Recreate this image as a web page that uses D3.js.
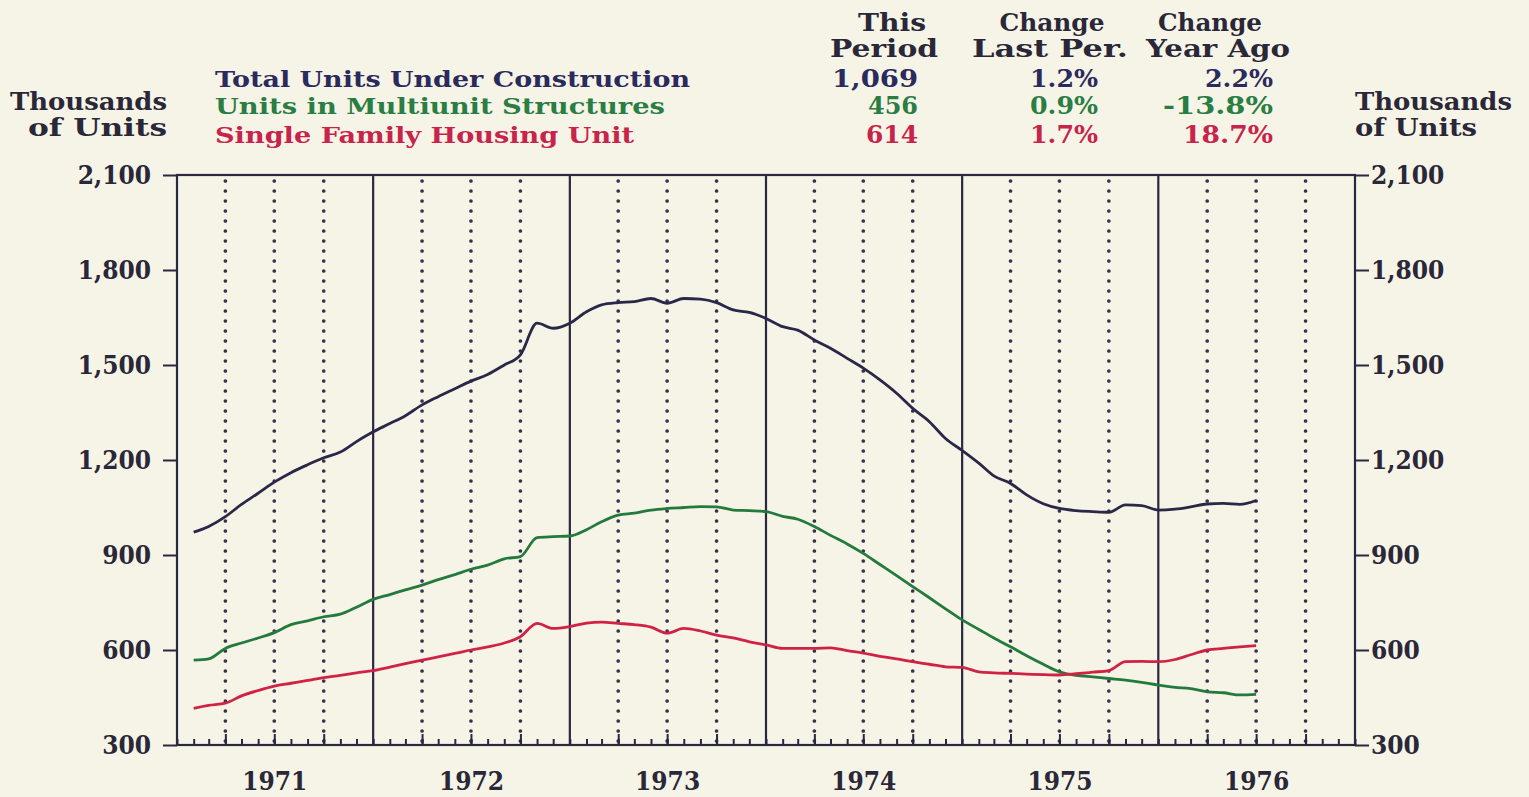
<!DOCTYPE html>
<html>
<head>
<meta charset="utf-8">
<script src="https://cdn.jsdelivr.net/npm/d3@7"></script>
<style>
  body { margin: 0; background: #f6f4e7; }
  svg { display: block; }
  .axis path, .axis line { stroke: #2a2840; }
  .ticklabel text, .axis text { font-family: "DejaVu Serif"; font-stretch: condensed; font-weight: bold; fill: #2a2838; }
</style>
</head>
<body>
<svg id="chart" width="1529" height="797"></svg>
<script>
// monthly readings, Feb 1971 .. Jul 1976 (thousands of units)
const months = d3.range(1, 67).map(i => new Date(1971, i, 1));
const totalUnits = [972, 990, 1021, 1060, 1095, 1130, 1160, 1185, 1207, 1225,
  1258, 1289, 1315, 1340, 1374, 1400, 1425, 1449, 1470, 1500,
  1532, 1632, 1616, 1632, 1668, 1690, 1697, 1700, 1710, 1695,
  1710, 1708, 1697, 1674, 1666, 1647, 1621, 1610, 1579, 1553,
  1521, 1490, 1453, 1411, 1363, 1321, 1268, 1230, 1190, 1150,
  1126, 1090, 1062, 1047, 1040, 1037, 1035, 1058, 1056, 1042,
  1045, 1052, 1061, 1063, 1060, 1072];
const multiUnits = [568, 572, 605, 622, 638, 655, 680, 692, 705, 713,
  735, 760, 775, 790, 805, 822, 838, 855, 868, 888,
  895, 955, 958, 960, 980, 1005, 1026, 1032, 1042, 1047,
  1050, 1053, 1052, 1042, 1040, 1037, 1022, 1013, 990, 962,
  935, 905, 870, 835, 800, 765, 730, 695, 665, 638,
  610, 582, 555, 531, 520, 515, 510, 505, 498, 489,
  482, 478, 468, 465, 458, 460];
const singleFamily = [416, 425, 432, 455, 472, 486, 495, 504, 513, 520,
  528, 535, 546, 557, 568, 578, 589, 600, 610, 622,
  642, 684, 668, 674, 685, 688, 684, 680, 672, 653,
  668, 660, 647, 638, 626, 616, 605, 605, 605, 607,
  598, 590, 580, 572, 563, 555, 547, 545, 531, 528,
  526, 524, 522, 521, 525, 530, 535, 563, 564, 563,
  570, 585, 600, 605, 610, 614];

const seriesNames = ["Total Units Under Construction", "Units in Multiunit Structures", "Single Family Housing Unit"];
const seriesColors = ["#2b2a5c", "#2a7d43", "#c8234a"];
const lineColors = ["#2a2748", "#237a3c", "#d02244"];
const thisPeriod = ["1,069", "456", "614"];
const changeLast = ["1.2%", "0.9%", "1.7%"];
const changeYearAgo = ["2.2%", "-13.8%", "18.7%"];
const columnHeads = [["This", "Period"], ["Change", "Last Per."], ["Change", "Year Ago"]];
const yTicks = [300, 600, 900, 1200, 1500, 1800, 2100];
const years = [1971, 1972, 1973, 1974, 1975, 1976];

const svg = d3.select("#chart");
const plotL = 177, plotR = 1355, plotT = 175, plotB = 745;

const x = d3.scaleTime()
  .domain([new Date(1971, 0, 1), new Date(1977, 0, 1)])
  .range([plotL, plotR]);
const y = d3.scaleLinear()
  .domain([300, 2100])
  .range([plotB, plotT]);

svg.append("rect").attr("width", 1529).attr("height", 797).attr("fill", "#f6f4e7");

// quarter dotted grid
const quarters = d3.timeMonth.every(3).range(x.domain()[0], x.domain()[1])
  .filter(d => d.getMonth() !== 0);
svg.append("g").selectAll("line").data(quarters).enter().append("line")
  .attr("x1", d => x(d)).attr("x2", d => x(d))
  .attr("y1", plotT + 6).attr("y2", plotB)
  .attr("stroke", "#34324c").attr("stroke-width", 3.7)
  .attr("stroke-linecap", "round").attr("stroke-dasharray", "0 10");

// year boundaries
const yearStarts = d3.timeYear.range(new Date(1972, 0, 1), new Date(1977, 0, 1));
svg.append("g").selectAll("line").data(yearStarts).enter().append("line")
  .attr("x1", d => x(d)).attr("x2", d => x(d))
  .attr("y1", plotT).attr("y2", plotB)
  .attr("stroke", "#2a2840").attr("stroke-width", 2.2);

// monthly ticks on the base line
svg.append("g").attr("class", "axis")
  .attr("transform", "translate(0," + plotB + ")")
  .call(d3.axisBottom(x).ticks(d3.timeMonth.every(1)).tickSize(-6).tickFormat(""))
  .call(g => g.select(".domain").remove())
  .selectAll("line").attr("stroke-width", 2);
svg.append("g").attr("class", "axis")
  .attr("transform", "translate(0," + plotB + ")")
  .call(d3.axisBottom(x).tickValues(quarters).tickSize(-11).tickFormat(""))
  .call(g => g.select(".domain").remove())
  .selectAll("line").attr("stroke-width", 2);

// frame and value axes
svg.append("g").attr("class", "axis ticklabel")
  .attr("transform", "translate(" + plotL + ",0)")
  .call(d3.axisLeft(y).tickValues(yTicks).tickSize(14).tickPadding(12).tickFormat(d3.format(",")))
  .call(g => g.select(".domain").remove())
  .call(g => g.selectAll("line").attr("stroke-width", 2))
  .call(g => g.selectAll("text").attr("font-size", 26));
svg.append("g").attr("class", "axis ticklabel")
  .attr("transform", "translate(" + plotR + ",0)")
  .call(d3.axisRight(y).tickValues(yTicks).tickSize(14).tickPadding(2).tickFormat(d3.format(",")))
  .call(g => g.select(".domain").remove())
  .call(g => g.selectAll("line").attr("stroke-width", 2))
  .call(g => g.selectAll("text").attr("font-size", 26));

svg.append("rect")
  .attr("x", plotL).attr("y", plotT)
  .attr("width", plotR - plotL).attr("height", plotB - plotT)
  .attr("fill", "none").attr("stroke", "#2a2840").attr("stroke-width", 2.2);

// year labels
svg.append("g").attr("class", "axis ticklabel")
  .attr("transform", "translate(0," + plotB + ")")
  .call(d3.axisBottom(x).tickValues(years.map(yr => new Date(yr, 6, 1))).tickSize(0).tickPadding(27).tickFormat(d3.timeFormat("%Y")))
  .call(g => g.select(".domain").remove())
  .call(g => g.selectAll("text").attr("font-size", 26));

// series lines
const line = d3.line()
  .x((d, i) => x(months[i]))
  .y(d => y(d))
  .curve(d3.curveMonotoneX);
[totalUnits, multiUnits, singleFamily].forEach((s, i) => {
  svg.append("path").datum(s)
    .attr("d", line)
    .attr("fill", "none")
    .attr("stroke", lineColors[i])
    .attr("stroke-width", 2.8)
    .attr("stroke-linejoin", "round");
});

// helper for fitted text
const serif = "DejaVu Serif";
function label(px, py, str, w, anchor, color, size) {
  return svg.append("text")
    .attr("x", px).attr("y", py)
    .attr("text-anchor", anchor)
    .attr("font-family", serif).attr("font-weight", "bold").attr("font-size", size || 24)
    .attr("textLength", w).attr("lengthAdjust", "spacingAndGlyphs")
    .attr("fill", color).text(str);
}

// unit titles
label(167, 110, "Thousands", 157, "end", "#2a2838", 25);
label(167, 136, "of Units", 139, "end", "#2a2838", 25);
label(1355, 110, "Thousands", 157, "start", "#2a2838", 25);
label(1355, 136, "of Units", 122, "start", "#2a2838", 25);

// legend
const rowY = [87, 114, 143];
const legendW = [475, 450, 419];
seriesNames.forEach((n, i) => label(215, rowY[i], n, legendW[i], "start", seriesColors[i], 23));

// summary table
const headCx = [[892, 884], [1052, 1050], [1210, 1218]];
const headW = [[68, 108], [105, 156], [104, 144]];
columnHeads.forEach((h, j) => {
  h.forEach((t, k) => label(headCx[j][k], k === 0 ? 31 : 57, t, headW[j][k], "middle", "#2a2838", 24));
});
const colRight = [918, 1098, 1273];
const valueW = [[86, 50, 52], [68, 68, 68], [68, 110, 90]];
[thisPeriod, changeLast, changeYearAgo].forEach((col, j) => {
  col.forEach((t, i) => label(colRight[j], rowY[i], t, valueW[j][i], "end", seriesColors[i], 24));
});
</script>
</body>
</html>
